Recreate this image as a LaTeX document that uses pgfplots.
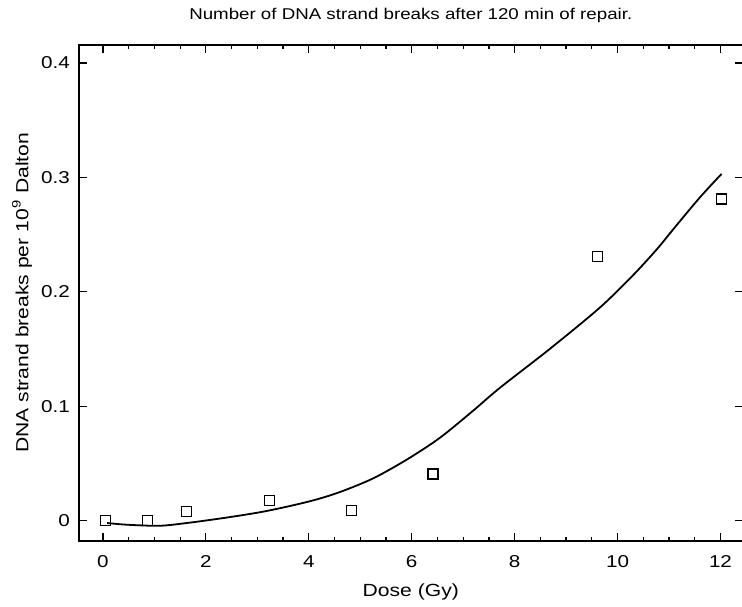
\documentclass[border=0pt]{standalone}
\usepackage{pgfplots}
\pgfplotsset{compat=1.18}
\usepackage{fontspec}
\setmainfont{Liberation Sans}[FakeStretch=1.2]
\begin{document}
\begin{tikzpicture}
\begin{axis}[
  name=ax,
  scale only axis,
  width=332pt, height=248pt,
  xmin=-0.466, xmax=12.43,
  ymin=-0.01747, ymax=0.4157,
  xtick={0,2,...,12},
  minor x tick num=3,
  ytick={0,0.1,0.2,0.3,0.4},
  tick align=inside,
  tick pos=both,
  major tick length=4pt,
  minor tick length=2pt,
  axis line style={line width=0.8pt},
  every tick/.style={line width=0.6pt, black},
  tick label style={font=\fontsize{8.6}{10}\selectfont},
  xticklabel style={yshift=-4pt},
  /pgf/number format/assume math mode=true,
  yticklabel style={/pgf/number format/fixed, xshift=-1pt},
  xlabel={Dose (Gy)},
  ylabel={DNA strand breaks per 10\textsuperscript{9} Dalton},
  label style={font=\fontsize{8.8}{10}\selectfont},
  xlabel style={at={(axis description cs:0.5,0)}, anchor=center, yshift=-25.5pt},
  ylabel style={at={(axis description cs:0,0.5)}, anchor=center, rotate=0, yshift=28.5pt},
  title={Number of DNA strand breaks after 120 min of repair.},
  title style={font=\fontsize{7.8}{9}\selectfont, at={(axis description cs:0.5,1)}, anchor=center, yshift=9pt},
]
\addplot[black, line width=0.9pt, smooth] coordinates {
(0.08,-0.002) (0.47,-0.0035) (1.1,-0.0044) (1.63,-0.002) (2.41,0.0028)
(3.18,0.0085) (4.02,0.0170) (4.60,0.0250) (5.25,0.0370) (5.90,0.0533)
(6.54,0.0722) (7.19,0.096) (7.71,0.116) (8.68,0.150) (9.65,0.186)
(10.29,0.214) (10.76,0.237) (11.07,0.254) (11.59,0.282) (12.02,0.303)
};
\addplot[only marks, mark=square, mark size=2.5pt, mark options={line width=0.75pt, black}] coordinates {
(0.05,0.0) (0.87,0.0) (1.62,0.008) (3.24,0.0175) (4.83,0.009)
(6.41,0.041) (9.61,0.231) (12.02,0.281)
};
\coordinate (bl) at (rel axis cs:0,0);
\coordinate (tr) at (rel axis cs:1,1);
\end{axis}
\pgfresetboundingbox
\path[use as bounding box] ([shift={(-39.5pt,-33pt)}]bl) rectangle ([shift={(-0.3pt,22.5pt)}]tr);
\end{tikzpicture}
\end{document}
